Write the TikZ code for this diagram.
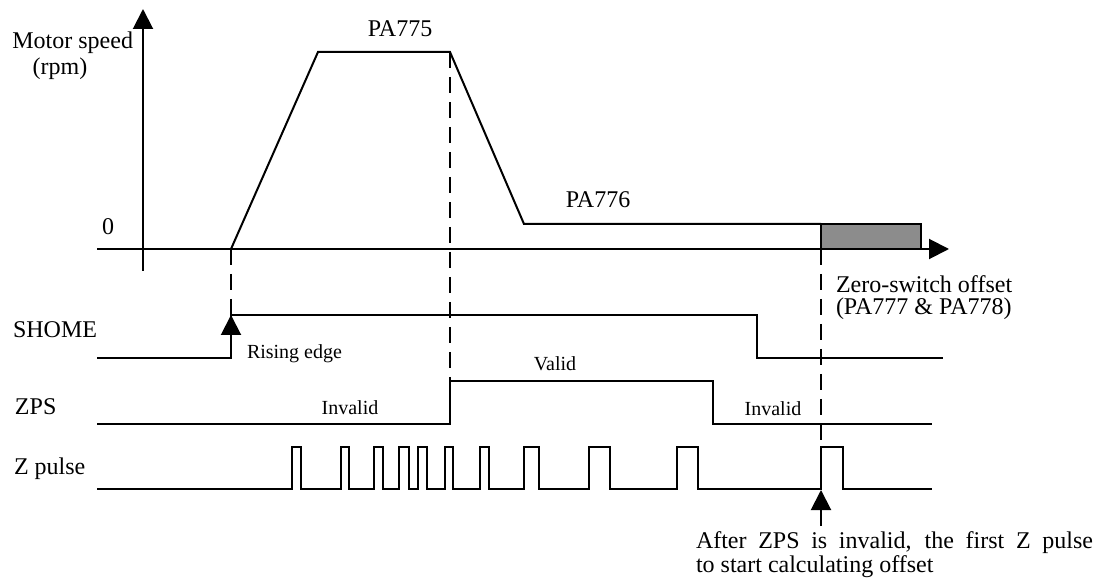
\documentclass[tikz,border=0pt]{standalone}
\usepackage{fontspec}
\setmainfont{Liberation Serif}
\usetikzlibrary{arrows.meta}
\definecolor{boxgray}{RGB}{140,140,140}
\begin{document}
\begin{tikzpicture}[x=1pt,y=-1pt, line width=2pt, line join=miter,
 lbl/.style={inner sep=0pt, anchor=base, font=\fontsize{24}{26}\selectfont},
 sml/.style={inner sep=0pt, anchor=base, font=\fontsize{20}{22}\selectfont},
 tip/.style={-{Triangle[width=20pt,length=20pt]}},
 dsh/.style={dash pattern=on 16pt off 9pt},
]
\useasboundingbox (0,0) rectangle (1096,585);
% key coordinates
\coordinate (yb) at (143,271);
\coordinate (yt) at (143,9);
\coordinate (xl) at (97,249);
\coordinate (xr) at (949,249);
\coordinate (s0) at (231,249);
\coordinate (s1) at (318,52);
\coordinate (s2) at (450,52);
\coordinate (s3) at (524,224);
\coordinate (s4) at (821,224);
\coordinate (bx) at (921,249);
\coordinate (shr) at (231,315);
\coordinate (zpr) at (450,381);
\coordinate (zr) at (821,447);
% axes
\draw[tip] (yb) -- (yt);
\draw[tip] (xl) -- (xr);
% speed profile
\draw (s0) -- (s1) -- (s2) -- (s3) -- (s4);
\draw[fill=boxgray] (s4) rectangle (bx);
% dashed guides
\draw[dsh] (s0) -- (shr);
\draw[dsh] (s2) -- (zpr);
\draw[dsh] (821,249) -- (zr);
% SHOME
\draw (97,358) -- (231,358) -- (shr) -- (757,315) -- (757,358) -- (943,358);
\draw[tip] (231,340) -- (shr);
% ZPS
\draw (97,424) -- (450,424) -- (zpr) -- (713,381) -- (713,424) -- (932,424);
% Z pulse
\draw (97,489) -| (292,447) -| (301,489) -| (341,447) -| (349,489) -| (374,447)
  -| (383,489) -| (399,447) -| (409,489) -| (418,447) -| (427,489) -| (445,447)
  -| (453,489) -| (480,447) -| (489,489) -| (524,447) -| (539,489) -| (589,447)
  -| (610,489) -| (677,447) -| (698,489) -| (zr) -| (843,489) -- (932,489);
\coordinate (za) at (821,526);
\draw[tip] (za) -- (821,490);
% labels
\node[lbl, anchor=base east] (ms) at (134,49) {Motor speed};
\node[lbl] (rpm) at (60,75) {(rpm)};
\node[lbl] (zero) at (108,235) {0};
\node[lbl] (pa5) at (400,37) {PA775};
\node[lbl] (pa6) at (598,208) {PA776};
\node[lbl, anchor=base west] (sh) at (12,338) {SHOME};
\node[lbl, anchor=base west] (zps) at (14,415) {ZPS};
\node[lbl, anchor=base west] (zp) at (13,475) {Z pulse};
\node[sml, anchor=base west] (re) at (246,359) {Rising edge};
\node[sml] (inv1) at (350,415) {Invalid};
\node[sml] (val) at (555,371) {Valid};
\node[sml] (inv2) at (773,416) {Invalid};
\node[lbl, anchor=base west] (zs1) at (835,293) {Zero-switch offset};
\node[lbl, anchor=base west] (zs2) at (835,315) {(PA777 \& PA778)};
\node[lbl, anchor=base west] (b1) at (695,548) {\makebox[397pt][s]{After ZPS is invalid, the first Z pulse}};
\node[lbl, anchor=base west] (b2) at (695,572) {to start calculating offset};
\end{tikzpicture}
\end{document}
